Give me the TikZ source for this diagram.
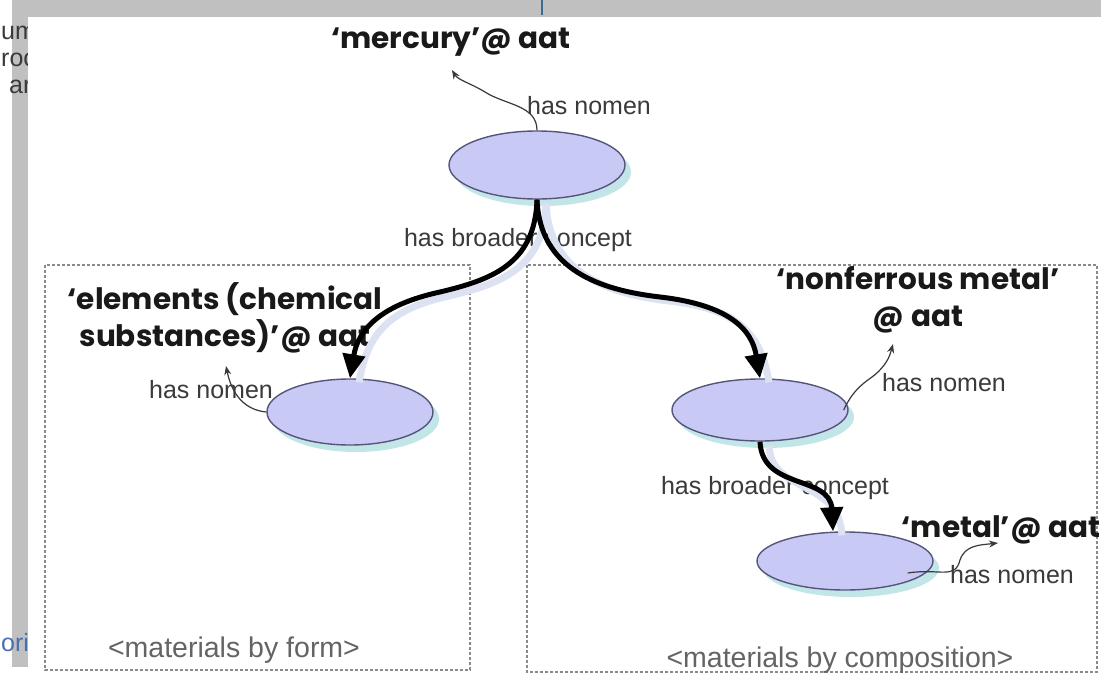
\documentclass[tikz,border=0pt]{standalone}
\usepackage{fontspec}
\setmainfont{Liberation Sans}
\newfontfamily\aatfamily{Poppins}
\usetikzlibrary{arrows.meta,shapes.geometric,shadows}

\definecolor{conceptc}{HTML}{C9C9F6}
\definecolor{rimc}{HTML}{55557A}
\definecolor{shadec}{HTML}{C2E6E8}
\definecolor{ghostc}{HTML}{DCE2F2}
\definecolor{relc}{HTML}{3A3A3A}
\definecolor{boxc}{HTML}{8A8A8A}
\definecolor{groupc}{HTML}{646464}
\definecolor{framec}{HTML}{C0C0C0}
\definecolor{linkc}{HTML}{3A6E8F}
\definecolor{origc}{HTML}{4A6FB0}

\newcommand\aatfont{\aatfamily\bfseries}

\begin{document}
\begin{tikzpicture}[x=1pt,y=-1pt,
    concept/.style={ellipse,draw=rimc,line width=1.4pt,fill=conceptc,inner sep=0pt,
        drop shadow={shadow xshift=6pt,shadow yshift=-7pt,fill=shadec,opacity=1}},
    term/.style={font=\fontsize{29.5}{37}\aatfont,text=black!90,align=center,inner sep=0pt},
    rel/.style={font=\fontsize{25}{28}\selectfont,text=relc,inner sep=0pt},
    group/.style={font=\fontsize{28.5}{32}\selectfont,text=groupc,inner sep=0pt},
    nomen/.style={draw=relc,line width=1.2pt,-{Stealth[length=9pt,width=7pt]}},
    broader/.style={line width=5pt,-{Triangle[length=24pt,width=22pt]},
        preaction={draw=ghostc,-,line width=7pt,transform canvas={xshift=9pt,yshift=-4pt}}},
    groupbox/.style={draw=boxc,line width=1.5pt,dash pattern=on 3pt off 2pt}]
\useasboundingbox (0,0) rectangle (1101,677);
\clip (0,0) rectangle (1101,677);

% window behind the diagram
\fill[framec] (12,0) rectangle (1101,17);
\fill[framec] (12,0) rectangle (28,667);
\draw[linkc,line width=1.5pt] (542,0) -- (542,15);
\node[rel,anchor=west] (w1) at (1,33) {um};
\node[rel,anchor=west] (w2) at (1,60) {roc};
\node[rel,anchor=west] (w3) at (9,87) {ar};
\node[rel,anchor=west,text=origc] (w4) at (1,645) {orig};
\fill[white] (28,17) rectangle (1101,677);

% groups
\draw[groupbox] (45,265) rectangle (470,670);
\draw[groupbox] (527,265) rectangle (1097,672);
\node[group] (form) at (234,650) {<materials by form>};
\node[group] (comp) at (840,660) {<materials by composition>};

% concepts
\node[concept,minimum width=176pt,minimum height=68pt] (merc) at (537,165) {};
\node[concept,minimum width=166pt,minimum height=66pt] (elem) at (350,412) {};
\node[concept,minimum width=176pt,minimum height=62pt] (nonf) at (760,410) {};
\node[concept,minimum width=176pt,minimum height=58pt] (metal) at (845,561) {};

% terms
\node[term] (tmerc) at (451,42) {‘mercury’@ aat};
\node[term] (telem) at (225,318) {‘elements (chemical\\substances)’@ aat};
\node[term] (tnonf) at (918,300) {‘nonferrous metal’\\@ aat};
\node[term] (tmetal) at (1001,530) {‘metal’@ aat};

% has nomen
\node[rel] (nmerc) at (589,106) {has nomen};
\node[rel] (nelem) at (211,390) {has nomen};
\node[rel] (nnonf) at (944,383) {has nomen};
\node[rel] (nmetal) at (1012,575) {has nomen};
\coordinate (amerc) at (452,70);
\coordinate (aelem) at (226,366);
\coordinate (anonf) at (893,344);
\coordinate (ametal) at (998,543);
\draw[nomen] (merc.north) .. controls (537,105) and (505,105) .. (485,92)
    .. controls (470,83) and (458,80) .. (amerc);
\draw[nomen] (elem.west) .. controls (245,410) and (232,395) .. (aelem);
\draw[nomen] ([xshift=-5pt]nonf.east) .. controls (855,385) and (870,380) .. (878,372)
    .. controls (888,362) and (890,355) .. (anonf);
\draw[nomen] ([xshift=-26pt,yshift=-12pt]metal.east) .. controls (940,568) and (955,580) .. (960,560)
    .. controls (965,545) and (980,545) .. (ametal);

% has broader concept
\node[rel] (bmerc) at (518,240) {has broader concept};
\node[rel] (bnonf) at (775,488) {has broader concept};
\draw[broader] (merc.south) .. controls (535,265) and (490,280) .. (440,292)
    .. controls (380,305) and (358,330) .. (elem.north);
\draw[broader] (merc.south) .. controls (540,270) and (600,290) .. (660,297)
    .. controls (730,305) and (752,330) .. (nonf.north);
\draw[broader] (nonf.south) .. controls (762,490) and (830,475) .. ([xshift=-12pt]metal.north);
\end{tikzpicture}
\end{document}
